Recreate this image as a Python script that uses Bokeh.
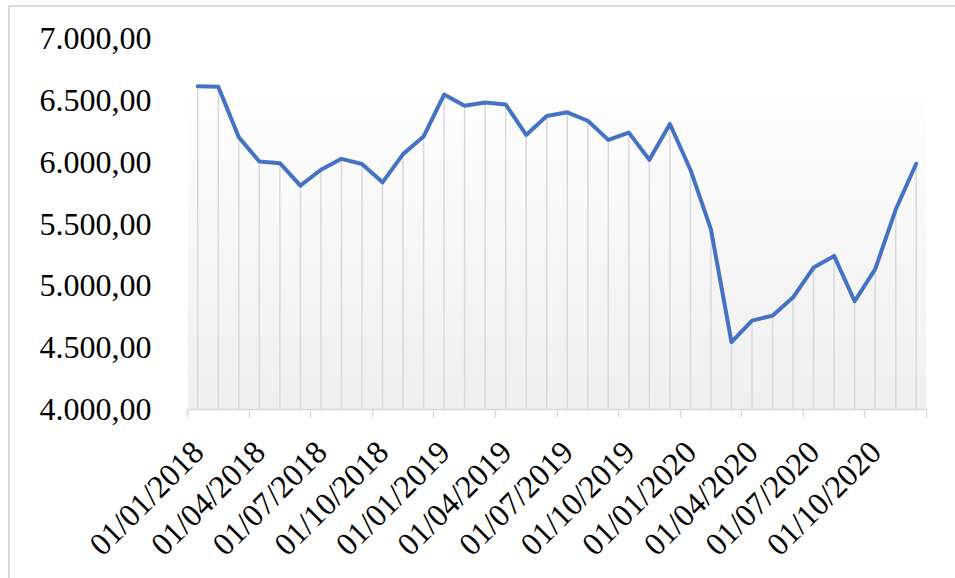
import math
from bokeh.plotting import figure
from bokeh.models import Range1d, FixedTicker, InlineStyleSheet
from bokeh.embed import file_html
from bokeh.resources import INLINE

# ---- data ----
months = [
    "01/01/2018", "01/02/2018", "01/03/2018", "01/04/2018", "01/05/2018", "01/06/2018",
    "01/07/2018", "01/08/2018", "01/09/2018", "01/10/2018", "01/11/2018", "01/12/2018",
    "01/01/2019", "01/02/2019", "01/03/2019", "01/04/2019", "01/05/2019", "01/06/2019",
    "01/07/2019", "01/08/2019", "01/09/2019", "01/10/2019", "01/11/2019", "01/12/2019",
    "01/01/2020", "01/02/2020", "01/03/2020", "01/04/2020", "01/05/2020", "01/06/2020",
    "01/07/2020", "01/08/2020", "01/09/2020", "01/10/2020", "01/11/2020", "01/12/2020",
]
values = [
    6614, 6609, 6202, 6005, 5992, 5810, 5939, 6027, 5985, 5837, 6065, 6207,
    6547, 6456, 6483, 6467, 6220, 6373, 6403, 6335, 6180, 6239, 6019, 6309,
    5939, 5456, 4545, 4719, 4759, 4907, 5148, 5242, 4875, 5135, 5617, 5987,
]
x_tick_labels = [
    "01/01/2018", "01/04/2018", "01/07/2018", "01/10/2018",
    "01/01/2019", "01/04/2019", "01/07/2019", "01/10/2019",
    "01/01/2020", "01/04/2020", "01/07/2020", "01/10/2020",
]
y_ticks = [4000, 4500, 5000, 5500, 6000, 6500, 7000]
y_tick_labels = ["4.000,00", "4.500,00", "5.000,00", "5.500,00", "6.000,00", "6.500,00", "7.000,00"]

x = list(range(len(months)))
y_min, y_max = y_ticks[0], y_ticks[-1]

W, H = 955, 578
p = figure(width=W, height=H, output_backend="svg", toolbar_location=None,
           x_range=Range1d(-0.5, len(months) - 0.5), y_range=Range1d(y_min, y_max),
           min_border_left=187, min_border_right=29, min_border_top=38, min_border_bottom=167)
p.outline_line_color = None
p.xgrid.grid_line_color = None
p.ygrid.grid_line_color = None
p.background_fill_color = "white"
p.border_fill_color = "white"

# gradient background (style only)
n_bands = 48
top = max(values) + 5
tops, bottoms, cols = [], [], []
for i in range(n_bands):
    b = y_min + (top - y_min) * i / n_bands
    t = y_min + (top - y_min) * (i + 1) / n_bands
    f = i / (n_bands - 1)
    c = int(round(239 + (254 - 239) * f))
    tops.append(t); bottoms.append(b); cols.append("#%02x%02x%02x" % (c, c, c))
p.quad(left=-0.5, right=len(months) - 0.5, top=tops, bottom=bottoms,
       fill_color=cols, line_color=None)

# drop lines
p.segment(x0=x, y0=[y_min] * len(x), x1=x, y1=values, line_color="#d9d9d9", line_width=1.5)

# series line
p.line(x, values, line_color="#4472C4", line_width=4, line_join="round", line_cap="round")

font = "Liberation Serif"
fs = "32px"

# x axis
label_pos = [months.index(s) for s in x_tick_labels]
minor = [i - 0.5 for i in range(0, len(months) + 1, 3)]
xa = p.xaxis[0]
xa.ticker = FixedTicker(ticks=label_pos, minor_ticks=minor)
xa.major_label_overrides = {pos: lab for pos, lab in zip(label_pos, x_tick_labels)}
xa.major_label_orientation = math.pi / 4
xa.major_label_text_font = font
xa.major_label_text_font_size = fs
xa.major_label_text_color = "black"
xa.major_label_standoff = 29
xa.axis_line_color = "#d9d9d9"
xa.axis_line_width = 1.5
xa.major_tick_line_color = None
xa.major_tick_out = 0
xa.major_tick_in = 0
xa.minor_tick_line_color = "#d9d9d9"
xa.minor_tick_line_width = 1.5
xa.minor_tick_out = 8
xa.minor_tick_in = 0

# y axis
ya = p.yaxis[0]
ya.ticker = FixedTicker(ticks=y_ticks, minor_ticks=[])
ya.major_label_overrides = {t: lab for t, lab in zip(y_ticks, y_tick_labels)}
ya.major_label_text_font = font
ya.major_label_text_font_size = fs
ya.major_label_text_color = "black"
ya.axis_line_color = None
ya.major_tick_line_color = None
ya.minor_tick_line_color = None
ya.major_tick_out = 0
ya.major_label_standoff = 36

# chart border (top and left edges visible in the window)
p.stylesheets = [InlineStyleSheet(css="""
:host { position: relative; }
:host::after {
  content: ""; position: absolute; left: 8px; top: 5px; right: -10px; bottom: -10px;
  border-top: 2px solid #d9d9d9; border-left: 2px solid #d9d9d9;
  pointer-events: none; z-index: 10;
}
""")]

open("out.html", "w").write(file_html(p, INLINE))
